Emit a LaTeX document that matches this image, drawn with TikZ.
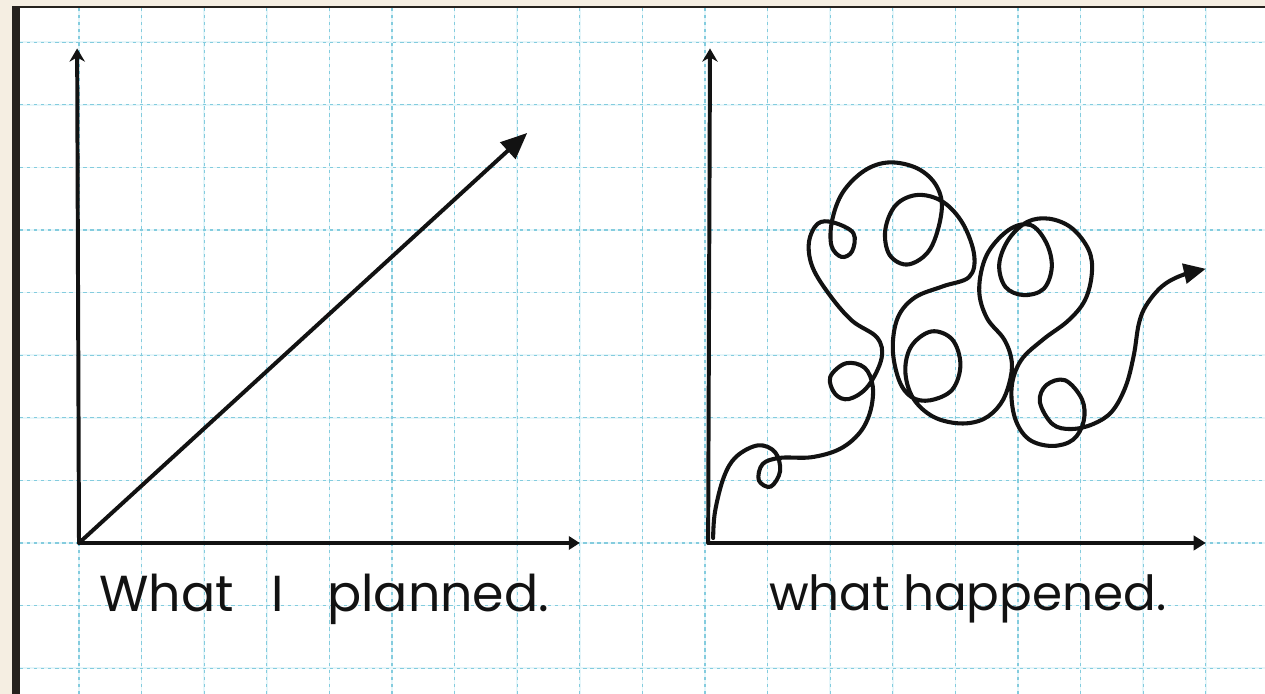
\documentclass[tikz,border=0pt]{standalone}
\usepackage{fontspec}
\usetikzlibrary{arrows.meta}
\newfontfamily\handfont{Poppins}
\definecolor{desk}{RGB}{245,238,226}
\definecolor{strip}{RGB}{38,34,30}
\definecolor{gridblue}{RGB}{132,204,222}
\definecolor{gridfaint}{RGB}{230,246,250}
\definecolor{ink}{RGB}{18,18,18}
\begin{document}
\begin{tikzpicture}[
    gridline/.style={gridblue, line width=0.55pt, dash pattern=on 1.5pt off 1.7pt},
    gridsoft/.style={gridfaint, line width=0.8pt},
    axisline/.style={ink, line width=1.8pt, line cap=round},
    squiggle/.style={ink, line width=1.85pt, line cap=round, line join=round},
    hand/.style={ink, font=\handfont\fontsize{23}{27}\selectfont, inner sep=0pt}]
    \useasboundingbox (-1.262,-2.412) rectangle (18.946,8.674);

    %desk and paper
    \fill[desk] (-1.262,-2.412) rectangle (18.946,8.674);
    \fill[white] (-0.942,-2.412) rectangle (18.946,8.554);
    \fill[strip] (-1.070,-2.412) rectangle (-0.942,8.578);
    \fill[strip] (-1.070,8.554) rectangle (18.946,8.578);

    %grid
    \foreach \k in {0,...,18} \draw[gridsoft] (\k,-2.412) -- (\k,8.554);
    \foreach \j in {-2,...,8} \draw[gridsoft] (-0.942,\j) -- (18.946,\j);
    \foreach \k in {0,...,18} \draw[gridline] (\k,-2.412) -- (\k,8.554);
    \foreach \j in {-2,...,8} \draw[gridline] (-0.942,\j) -- (18.946,\j);

    %left axis
    \coordinate (o1) at (0,0);
    \coordinate (x1) at (8,0);
    \coordinate (y1) at (-0.03,7.9);
    \coordinate (goal) at (7.16,6.55);
    \draw[axisline, -{Stealth[length=6pt,width=7pt]}] (o1) -- (y1);
    \draw[axisline, -{Triangle[length=5pt,width=6pt]}] (o1) -- (x1);

    %planned line
    \draw[axisline, -{Triangle[length=12pt,width=10pt]}] (o1) -- (goal);

    %right axis
    \coordinate (o2) at (10.05,0);
    \coordinate (x2) at (18,0);
    \coordinate (y2) at (10.08,7.9);
    \draw[axisline, -{Stealth[length=6pt,width=7pt]}] (o2) -- (y2);
    \draw[axisline, -{Triangle[length=5.5pt,width=6.5pt]}] (o2) -- (x2);

    %what happened
    \draw[squiggle, -{Triangle[length=10pt,width=9pt]}] plot[smooth, tension=0.6] coordinates {
        (10.13,0.08) (10.16,0.5) (10.3,1.05) (10.5,1.38) (10.85,1.56)
        (11.12,1.45) (11.2,1.15) (11.05,0.9) (10.86,1.0) (10.92,1.26)
        (11.2,1.36) (11.7,1.37) (12.15,1.5) (12.47,1.76) (12.64,2.1)
        (12.68,2.5) (12.55,2.8) (12.25,2.87) (12.0,2.65) (12.08,2.38)
        (12.3,2.3) (12.6,2.5) (12.82,2.95) (12.75,3.28) (12.35,3.55)
        (12.0,3.95) (11.72,4.4) (11.66,4.8) (11.8,5.1) (12.05,5.12)
        (12.37,4.95) (12.35,4.66) (12.18,4.57) (12.02,4.75) (12.03,5.15)
        (12.2,5.6) (12.55,5.95) (12.95,6.08) (13.4,5.98) (13.7,5.7)
        (13.78,5.3) (13.6,4.7) (13.25,4.45) (12.95,4.6) (12.88,5.0)
        (13.05,5.4) (13.4,5.56) (13.8,5.45) (14.12,5.1) (14.3,4.6)
        (14.22,4.25) (13.8,4.1) (13.35,3.92) (13.08,3.6) (13.0,3.1)
        (13.1,2.6) (13.3,2.33) (13.6,2.28) (13.95,2.45) (14.08,2.85)
        (13.95,3.25) (13.62,3.38) (13.3,3.15) (13.2,2.75) (13.32,2.32)
        (13.64,2.02) (14.07,1.91) (14.45,1.98) (14.72,2.22) (14.86,2.55)
        (14.9,2.9) (14.78,3.25) (14.5,3.6) (14.38,4.05) (14.5,4.6)
        (14.85,5.0) (15.2,5.08) (15.45,4.8) (15.54,4.41) (15.41,4.06)
        (15.09,3.96) (14.8,4.09) (14.7,4.45) (14.85,4.85) (15.15,5.13)
        (15.5,5.18) (15.86,5.03) (16.13,4.68) (16.18,4.31) (16.07,3.88)
        (15.8,3.55) (15.4,3.25) (15.05,2.92) (14.9,2.5) (14.95,2.0)
        (15.17,1.66) (15.54,1.55) (15.88,1.65) (16.05,1.95) (16.02,2.3)
        (15.75,2.6) (15.45,2.52) (15.35,2.25) (15.55,1.9) (15.85,1.82)
        (16.2,1.9) (16.5,2.1) (16.72,2.5) (16.85,3.0) (16.93,3.5)
        (17.05,3.8) (17.3,4.1) (17.6,4.27) (18.0,4.38)};

    %labels
    \node[hand, anchor=base west] (planned) at (0.32,-1.1) {What\hspace{0.75em}I\hspace{0.85em}planned.};
    \node[hand, anchor=base west, font=\handfont\fontsize{22}{26}\selectfont] (happened) at (11.02,-1.08) {what happened.};
\end{tikzpicture}
\end{document}
